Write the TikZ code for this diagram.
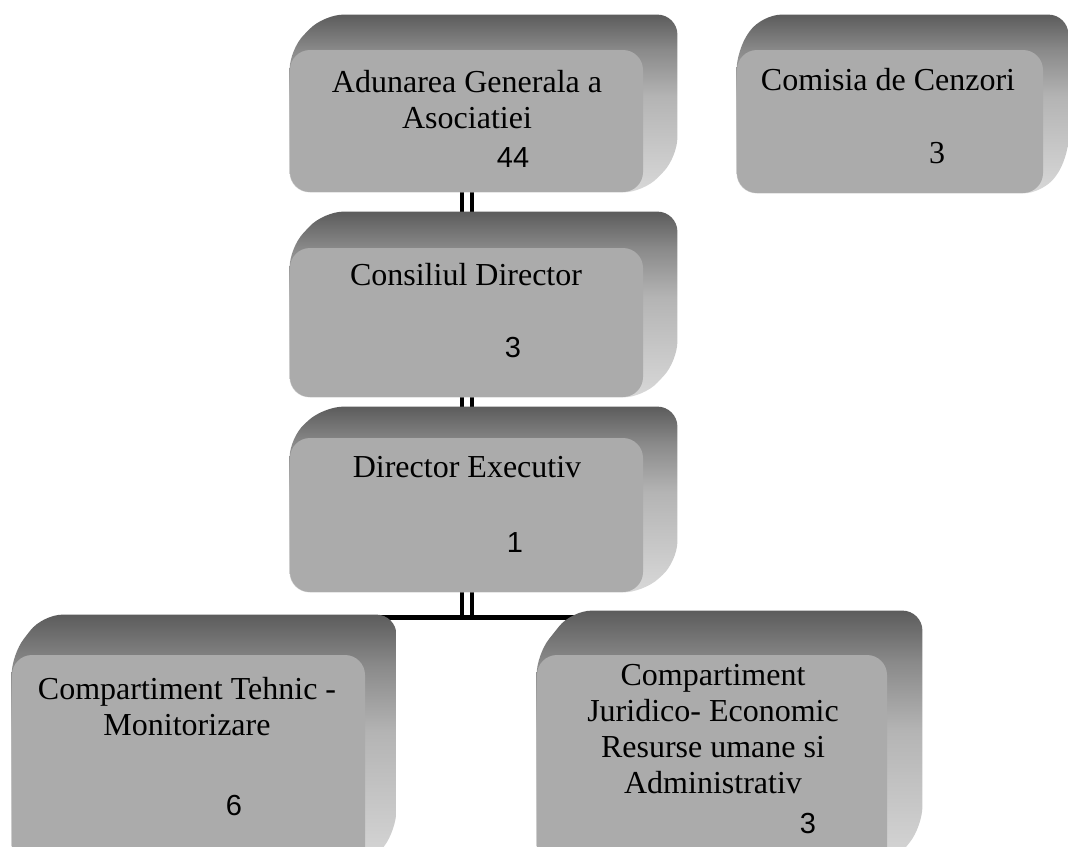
\documentclass[tikz,border=0pt]{standalone}
\usepackage{fontspec}
\setmainfont{Liberation Serif}
\newfontfamily\numfont{Liberation Sans}
\usetikzlibrary{positioning}

\definecolor{facegray}{HTML}{ABABAB}
\definecolor{sidedark}{HTML}{5C5C5C}
\definecolor{sidetop}{HTML}{8A8A8A}
\definecolor{sidemid}{HTML}{B4B4B4}
\definecolor{sidelight}{HTML}{D8D8D8}

\pgfdeclarelayer{lines}
\pgfdeclarelayer{sides}
\pgfsetlayers{lines,sides,main}

\pgfdeclareverticalshading{sideshade}{100bp}{color(0bp)=(sidelight); color(25bp)=(sidelight); color(52bp)=(sidemid); color(65bp)=(sidetop); color(75bp)=(sidedark); color(100bp)=(sidedark)}

\tikzset{
  box/.style={rectangle, rounded corners=10pt, fill=facegray, inner sep=0pt},
  side/.style={shading=sideshade, rounded corners=10pt},
  title/.style={font=\fontsize{16}{18}\selectfont, align=center, inner sep=0pt},
  num/.style={font=\numfont\fontsize{14.5}{16}\selectfont, inner sep=0pt},
  link/.style={double, line width=2pt, double distance=3pt},
  bar/.style={line width=2.5pt}
}

% back part of a box: node, shift right, shift up
\newcommand{\extrude}[3]{%
  \path[side] (#1.south west) -- (#1.north west) -- ([shift={(#2,-#3)}]#1.north west)
    -- ([shift={(#2,-#3)}]#1.north east) -- ([shift={(#2,-#3)}]#1.south east)
    -- (#1.south east) -- cycle;}

\begin{document}
\begin{tikzpicture}[x=0.5pt,y=-0.5pt]
    \useasboundingbox (0,0) rectangle (1068,846);
    % Front faces
    \node[box, minimum width=176.5pt, minimum height=71pt] (adunare) at (466.5,121) {};
    \node[box, minimum width=176.5pt, minimum height=74.5pt] (consiliu) at (466.5,322.5) {};
    \node[box, minimum width=176.5pt, minimum height=77pt] (director) at (466.5,515) {};
    \node[box, minimum width=176.5pt, minimum height=107.5pt] (tehnic) at (188.5,762.5) {};
    \node[box, minimum width=175pt, minimum height=107.5pt] (juridic) at (712,762.5) {};
    \node[box, minimum width=153pt, minimum height=71.5pt] (cenzori) at (890,121.5) {};
    % Texts (base = last line)
    \node[title, anchor=base] (adunare-t) at (467,128) {Adunarea Generala a\\Asociatiei};
    \node[num, anchor=base] (adunare-n) at (513,167) {44};
    \node[title, anchor=base] (consiliu-t) at (466,285) {Consiliul Director};
    \node[num, anchor=base] (consiliu-n) at (513,357) {3};
    \node[title, anchor=base] (director-t) at (467,477) {Director Executiv};
    \node[num, anchor=base] (director-n) at (515,552) {1};
    \node[title, anchor=base] (tehnic-t) at (187,735) {Compartiment Tehnic -\\Monitorizare};
    \node[num, anchor=base] (tehnic-n) at (234,815) {6};
    \node[title, anchor=base] (juridic-t) at (713,793) {Compartiment\\Juridico- Economic\\Resurse umane si\\Administrativ};
    \node[num, anchor=base] (juridic-n) at (808,833) {3};
    \node[title, anchor=base] (cenzori-t) at (888,90) {Comisia de Cenzori};
    \node[title, anchor=base] (cenzori-n) at (937,163) {3};
    % Back parts
    \begin{pgfonlayer}{sides}
        \foreach \n/\dx/\dy in {adunare/34/35, consiliu/34/36, director/34/31, tehnic/31/40, juridic/35/44, cenzori/25/35}
            {\extrude{\n}{\dx}{\dy}}
    \end{pgfonlayer}
    % Connectors
    \begin{pgfonlayer}{lines}
        \coordinate (bar-l) at (58,617);
        \coordinate (bar-r) at (590,617);
        \draw[link] (adunare.south) -- (consiliu.north);
        \draw[link] (consiliu.south) -- (director.north);
        \draw[link] (director.south) -- (director.south |- bar-l);
        \draw[bar] (bar-l) -- (bar-r);
    \end{pgfonlayer}
\end{tikzpicture}
\end{document}
